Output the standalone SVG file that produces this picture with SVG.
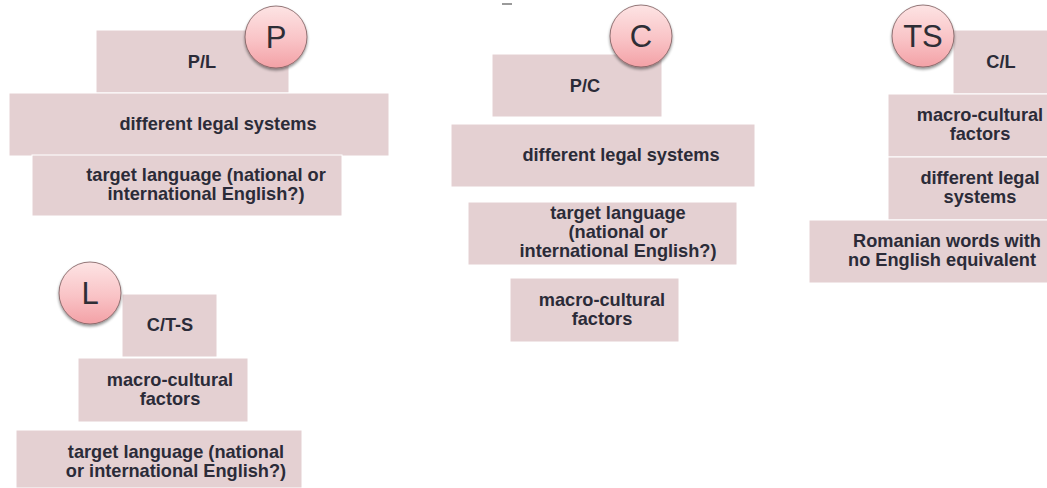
<svg xmlns="http://www.w3.org/2000/svg" width="1047" height="488" viewBox="0 0 1047 488">
<defs>
<style>
.box{fill:#e4d0d2;stroke:#ffffff;stroke-width:1}
.t{font-family:"Liberation Sans",Arial,sans-serif;font-weight:bold;font-size:18.2px;fill:#2b2b38;text-anchor:middle}
.c{fill:url(#cg);stroke:#7a5a5c;stroke-width:0.8;filter:url(#sh)}
.ct{font-family:"Liberation Sans",Arial,sans-serif;font-size:31px;fill:#2e2e36;text-anchor:middle}
</style>
<linearGradient id="cg" x1="0" y1="0" x2="0" y2="1">
<stop offset="0" stop-color="#fde4e4"/>
<stop offset="0.55" stop-color="#f9c3c6"/>
<stop offset="1" stop-color="#f3a1a6"/>
</linearGradient>
<filter id="sh" x="-30%" y="-30%" width="160%" height="170%">
<feGaussianBlur in="SourceAlpha" stdDeviation="1.6"/>
<feOffset dx="0" dy="2" result="b"/>
<feComponentTransfer><feFuncA type="linear" slope="0.45"/></feComponentTransfer>
<feMerge><feMergeNode/><feMergeNode in="SourceGraphic"/></feMerge>
</filter>
</defs>
<rect width="1047" height="488" fill="#ffffff"/>
<g id="connectors"></g>
<line x1="502" y1="4" x2="512" y2="4" stroke="#9a9a9a" stroke-width="2"/>

<g id="group-P">
<rect class="box" x="96" y="30" width="193" height="63"/>
<text class="t" x="202" y="68">P/L</text>
<rect class="box" x="9" y="93" width="380" height="63"/>
<text class="t" x="218" y="130">different legal systems</text>
<rect class="box" x="32" y="155" width="310" height="61"/>
<text class="t" x="206" y="181">target language (national or</text>
<text class="t" x="206" y="200">international English?)</text>
<circle class="c" cx="276" cy="37" r="31"/>
<text class="ct" x="276" y="48">P</text>
</g>

<g id="group-C">
<rect class="box" x="492" y="54" width="170" height="63"/>
<text class="t" x="585" y="92">P/C</text>
<rect class="box" x="451" y="124" width="304" height="63"/>
<text class="t" x="621" y="161">different legal systems</text>
<rect class="box" x="468" y="202" width="269" height="63"/>
<text class="t" x="618" y="219">target language</text>
<text class="t" x="618" y="238">(national or</text>
<text class="t" x="618" y="257">international English?)</text>
<rect class="box" x="510" y="278" width="169" height="64"/>
<text class="t" x="602" y="306">macro-cultural</text>
<text class="t" x="602" y="325">factors</text>
<circle class="c" cx="641" cy="36" r="31"/>
<text class="ct" x="641" y="47">C</text>
</g>

<g id="group-TS">
<rect class="box" x="953" y="30" width="95" height="64"/>
<text class="t" x="1001" y="68">C/L</text>
<rect class="box" x="888" y="94" width="160" height="63"/>
<text class="t" x="980" y="121">macro-cultural</text>
<text class="t" x="980" y="140">factors</text>
<rect class="box" x="888" y="157" width="160" height="63"/>
<text class="t" x="980" y="184">different legal</text>
<text class="t" x="980" y="203">systems</text>
<rect class="box" x="809" y="220" width="239" height="63"/>
<text class="t" x="947" y="247">Romanian words with</text>
<text class="t" x="942" y="266">no English equivalent</text>
<circle class="c" cx="923" cy="36" r="31"/>
<text class="ct" x="923" y="47">TS</text>
</g>

<g id="group-L">
<rect class="box" x="122" y="294" width="95" height="63"/>
<text class="t" x="170" y="331">C/T-S</text>
<rect class="box" x="78" y="358" width="170" height="64"/>
<text class="t" x="170" y="386">macro-cultural</text>
<text class="t" x="170" y="405">factors</text>
<rect class="box" x="16" y="430" width="286" height="58"/>
<text class="t" x="176" y="458">target language (national</text>
<text class="t" x="176" y="477">or international English?)</text>
<circle class="c" cx="90" cy="293" r="31"/>
<text class="ct" x="90" y="304">L</text>
</g>
</svg>
